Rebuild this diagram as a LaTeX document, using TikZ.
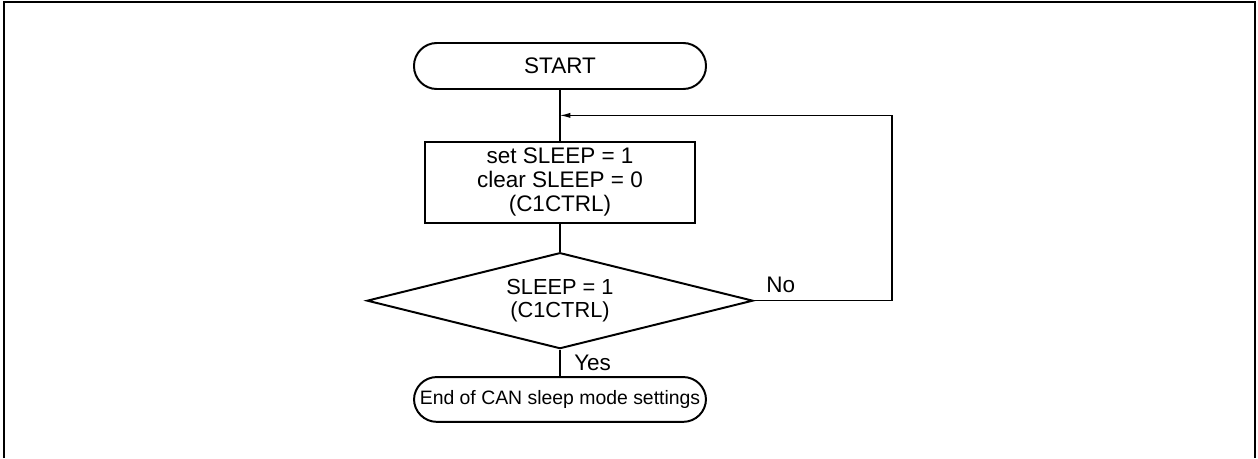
\documentclass[tikz,border=0pt]{standalone}
\usepackage{fontspec}
\setmainfont{Liberation Sans}
\usetikzlibrary{arrows.meta,positioning,shapes.geometric,calc}

\begin{document}
\begin{tikzpicture}[
    terminal/.style={draw, line width=1.4pt, rounded corners=0.57cm, align=center, minimum width=7.3cm, minimum height=1.15cm, inner sep=1pt, font=\fontsize{16}{17}\selectfont},
    task/.style={draw, line width=1.5pt, align=center, minimum width=6.75cm, minimum height=2.02cm, font=\fontsize{16}{17.2}\selectfont},
    check/.style={draw, diamond, line width=1.4pt, aspect=4, inner sep=0pt, minimum width=9.65cm, minimum height=2.4cm, align=center, font=\fontsize{15.5}{16.6}\selectfont},
    lbl/.style={font=\fontsize{16}{17}\selectfont, inner sep=0pt},
    link/.style={line width=0.75pt},
    back/.style={-{Latex[length=2.6mm, width=1.3mm]}, line width=0.75pt}
]
\useasboundingbox (0,0) rectangle (31.45,-11.45);
% outer frame, open at the bottom
\draw[line width=2pt] (0.1,-11.45) |- (31.375,-0.05) -- (31.375,-11.45);

\node[terminal] (start) at (14,-1.65) {START};
\node[task, below=1.27cm of start] (sleepset) {set SLEEP = 1\\clear SLEEP = 0\\(C1CTRL)};
\node[check, below=0.7cm of sleepset] (sleepchk) {SLEEP = 1\\(C1CTRL)};
\node[terminal, minimum height=1.12cm, font=\fontsize{13.8}{15}\selectfont, below=0.66cm of sleepchk] (finish) {End of CAN sleep mode settings};

\coordinate (join) at ($(start.south)!0.5!(sleepset.north)$);
\coordinate[right=3.45cm of sleepchk.east] (turn);

\node[lbl, anchor=west] (no) at ($(sleepchk.east)+(0.3cm,0.4cm)$) {No};
\node[lbl, anchor=west] (yes) at ($(sleepchk.south)+(0.35cm,-0.33cm)$) {Yes};

\draw[link] (start) -- (sleepset);
\draw[link] (sleepset) -- (sleepchk);
\draw[link] (sleepchk) -- (finish);
\draw[back] (sleepchk.east) -- (turn) |- (join);
\end{tikzpicture}
\end{document}
